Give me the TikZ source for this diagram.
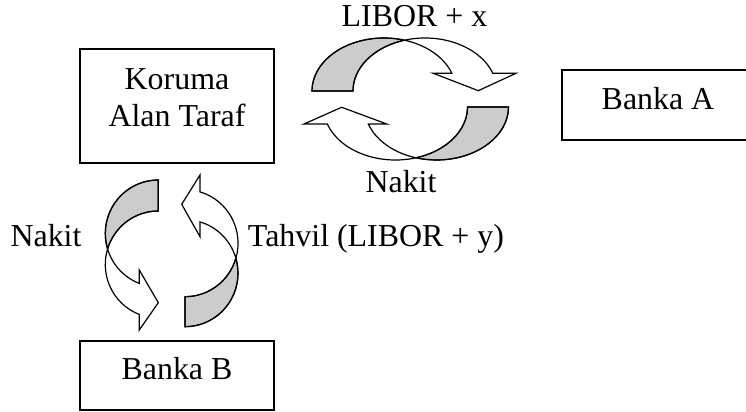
\documentclass[tikz,border=0pt]{standalone}
\usepackage{fontspec}
\setmainfont{Liberation Serif}
\usepackage{tikz}
\definecolor{backgray}{gray}{0.8}

\begin{document}
\begin{tikzpicture}[x=0.025cm, y=0.025cm,
        lbl/.style={inner sep=0pt, font=\fontsize{22.7}{26.6}\selectfont},
        frame/.style={line width=1pt},
        band/.style={line width=0.85pt, line join=miter},
        back/.style={band, fill=backgray}]
        \useasboundingbox (0,0) rectangle (746,412);

        % Boxes
        \draw[frame] (80,249) rectangle (274,363);
        \draw[frame] (562,272) rectangle (752,342);
        \draw[frame] (80,2) rectangle (274,71);

        \node[lbl, align=center] (koruma) at (177,314.5) {Koruma\\Alan Taraf};
        \node[lbl, anchor=base] (bankaA) at (658,302) {Banka A};
        \node[lbl, anchor=base] (bankaB) at (177,32) {Banka B};

        % Labels of the arrows
        \node[lbl, anchor=base] (libor) at (414.5,385) {LIBOR + x};
        \node[lbl, anchor=base] (nakitA) at (401,219) {Nakit};
        \node[lbl, anchor=base] (nakitB) at (46,165.5) {Nakit};
        \node[lbl, anchor=base] (tahvil) at (376,165.5) {Tahvil (LIBOR + y)};

        % LIBOR + x arrow (over the top, down into A)
        \begin{scope}[shift={(384,321)}]
            \filldraw[back] (-72,0) arc[start angle=180, end angle=73.46, x radius=72, y radius=53]
                arc[start angle=106.54, end angle=180, x radius=72, y radius=53] -- cycle;
            \draw[band] (-72,0) arc[start angle=180, end angle=19.5, x radius=72, y radius=53]
                -- (49.3,17.7) -- (94.3,0.3) -- (132,17.7) -- (108.87,17.69)
                arc[start angle=19.5, end angle=180, x radius=72, y radius=53] -- cycle;
        \end{scope}

        % Nakit arrow (under the bottom, back to the hedger)
        \begin{scope}[shift={(436.5,305)}]
            \filldraw[back] (72,0) arc[start angle=0, end angle=-106.54, x radius=72, y radius=53]
                arc[start angle=-73.46, end angle=0, x radius=72, y radius=53] -- cycle;
            \draw[band] (72,0) arc[start angle=0, end angle=-161.3, x radius=72, y radius=53]
                -- (-49.8,-17) -- (-94.8,-0.3) -- (-132.5,-17) -- (-109.2,-17)
                arc[start angle=-161.3, end angle=0, x radius=72, y radius=53] -- cycle;
        \end{scope}

        % Nakit arrow (left side, down to B)
        \begin{scope}[shift={(158.3,178.5)}]
            \filldraw[back] (0,53.5) arc[start angle=90, end angle=196.84, x radius=53, y radius=53.5]
                arc[start angle=163.16, end angle=90, x radius=53, y radius=53.5] -- cycle;
            \draw[band] (0,53.5) arc[start angle=90, end angle=249, x radius=53, y radius=53.5]
                -- (-19,-36.5) -- (0,-69.2) -- (-19,-96.5) -- (-19,-80.95)
                arc[start angle=249, end angle=90, x radius=53, y radius=53.5] -- cycle;
        \end{scope}

        % Tahvil arrow (right side, up to the hedger)
        \begin{scope}[shift={(185,138.8)}]
            \filldraw[back] (0,-53.5) arc[start angle=-90, end angle=16.28, x radius=53, y radius=53.5]
                arc[start angle=-16.28, end angle=-90, x radius=53, y radius=53.5] -- cycle;
            \draw[band] (0,-53.5) arc[start angle=-90, end angle=73.6, x radius=53, y radius=53.5]
                -- (15,36.5) -- (-3.3,68.9) -- (15,98.2) -- (15,81.32)
                arc[start angle=73.6, end angle=-90, x radius=53, y radius=53.5] -- cycle;
        \end{scope}
    \end{tikzpicture}
\end{document}
